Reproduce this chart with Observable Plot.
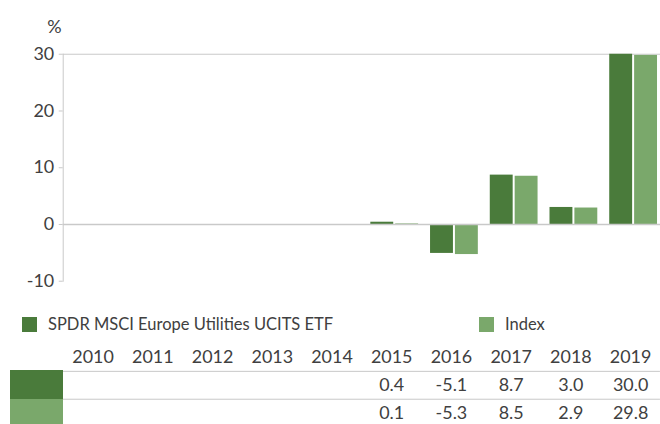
<!DOCTYPE html>
<html>
<head>
<meta charset="utf-8">
<script src="https://cdn.jsdelivr.net/npm/d3@7"></script>
<script src="https://cdn.jsdelivr.net/npm/@observablehq/plot@0.6"></script>
<style>
  html, body { margin: 0; padding: 0; overflow: hidden; background: #fff; }
  body { width: 660px; height: 424px; position: relative; font-family: Lato, "Open Sans", sans-serif; color: #404040; }
  #chart { position: absolute; left: 0; top: 0; }
  #legend { position: absolute; left: 0; top: 314px; width: 660px; height: 22px; font-size: 16.5px; }
  .lg { position: absolute; top: 0; display: flex; align-items: center; white-space: nowrap; }
  .sw { display: inline-block; width: 15px; height: 15px; margin-right: 11px; }
  #table { position: absolute; left: 0; top: 343px; }
  .rowsw { position: absolute; left: 10px; width: 53px; }
</style>
</head>
<body>
<div id="chart"></div>
<div id="legend"></div>
<div id="table"></div>
<script>
const years = ["2010", "2011", "2012", "2013", "2014", "2015", "2016", "2017", "2018", "2019"];
const etfValues = [null, null, null, null, null, 0.4, -5.1, 8.7, 3.0, 30.0];
const indexValues = [null, null, null, null, null, 0.1, -5.3, 8.5, 2.9, 29.8];
const seriesNames = ["SPDR MSCI Europe Utilities UCITS ETF", "Index"];
const seriesColors = ["#4a7b3b", "#7aa86b"];
const yTicks = [-10, 0, 10, 20, 30];
const yUnit = "%";

const data = years.map((year, i) => ({year, etf: etfValues[i], index: indexValues[i]}));
const gridColor = "#c9c9c9";
const textColor = "#404040";
const font = "Lato, 'Open Sans', sans-serif";

const chart = Plot.plot({
  width: 663,
  height: 300,
  marginLeft: 63,
  marginRight: 0,
  marginTop: 54,
  marginBottom: 18,
  style: {fontFamily: font, fontSize: "18px", color: textColor, background: "transparent", overflow: "visible"},
  x: {type: "band", domain: years, padding: 0, axis: null},
  y: {domain: [-10, 30], axis: null},
  marks: [
    Plot.ruleY([30], {stroke: gridColor, strokeWidth: 1}),
    Plot.barY(data, {x: "year", y: "etf", fill: seriesColors[0], insetLeft: 9, insetRight: 28}),
    Plot.barY(data, {x: "year", y: "index", fill: seriesColors[1], insetLeft: 34, insetRight: 3}),
    Plot.ruleY([0], {stroke: gridColor, strokeWidth: 1.5}),
    Plot.frame({anchor: "left", stroke: gridColor}),
    Plot.axisY({ticks: yTicks, tickSize: 4, tickPadding: 5, label: null, stroke: gridColor, color: textColor, tickFormat: d => String(d)}),
    Plot.text([yUnit], {frameAnchor: "top-left", dx: -16, dy: -34, fill: textColor, fontSize: 18})
  ]
});
document.getElementById("chart").append(chart);

// Legend
const legend = document.getElementById("legend");
const legendX = [22, 479];
seriesNames.forEach((name, i) => {
  const item = document.createElement("div");
  item.className = "lg";
  item.style.left = legendX[i] + "px";
  const sw = document.createElement("span");
  sw.className = "sw";
  sw.style.background = seriesColors[i];
  item.append(sw, document.createTextNode(name));
  legend.append(item);
});

// Data table
const table = Plot.plot({
  width: 663,
  height: 84,
  marginLeft: 63,
  marginRight: 0,
  marginTop: 0,
  marginBottom: 0,
  style: {fontFamily: font, fontSize: "18px", color: textColor, background: "transparent", overflow: "visible"},
  x: {type: "band", domain: years, padding: 0, axis: null},
  y: {domain: [0, 3], range: [0, 84], axis: null},
  marks: [
    Plot.ruleY([1, 2], {stroke: gridColor}),
    Plot.text(years, {x: d => d, y: () => 0.5, fill: textColor}),
    Plot.text(data.filter(d => d.etf != null), {x: "year", y: () => 1.5, text: d => d.etf.toFixed(1), fill: textColor}),
    Plot.text(data.filter(d => d.index != null), {x: "year", y: () => 2.5, text: d => d.index.toFixed(1), fill: textColor})
  ]
});
const tableDiv = document.getElementById("table");
tableDiv.append(table);

const swTops = [370, 399];
const swHeights = [29, 25];
seriesColors.forEach((c, i) => {
  const s = document.createElement("div");
  s.className = "rowsw";
  s.style.top = swTops[i] + "px";
  s.style.height = swHeights[i] + "px";
  s.style.background = c;
  document.body.append(s);
});
</script>
</body>
</html>
